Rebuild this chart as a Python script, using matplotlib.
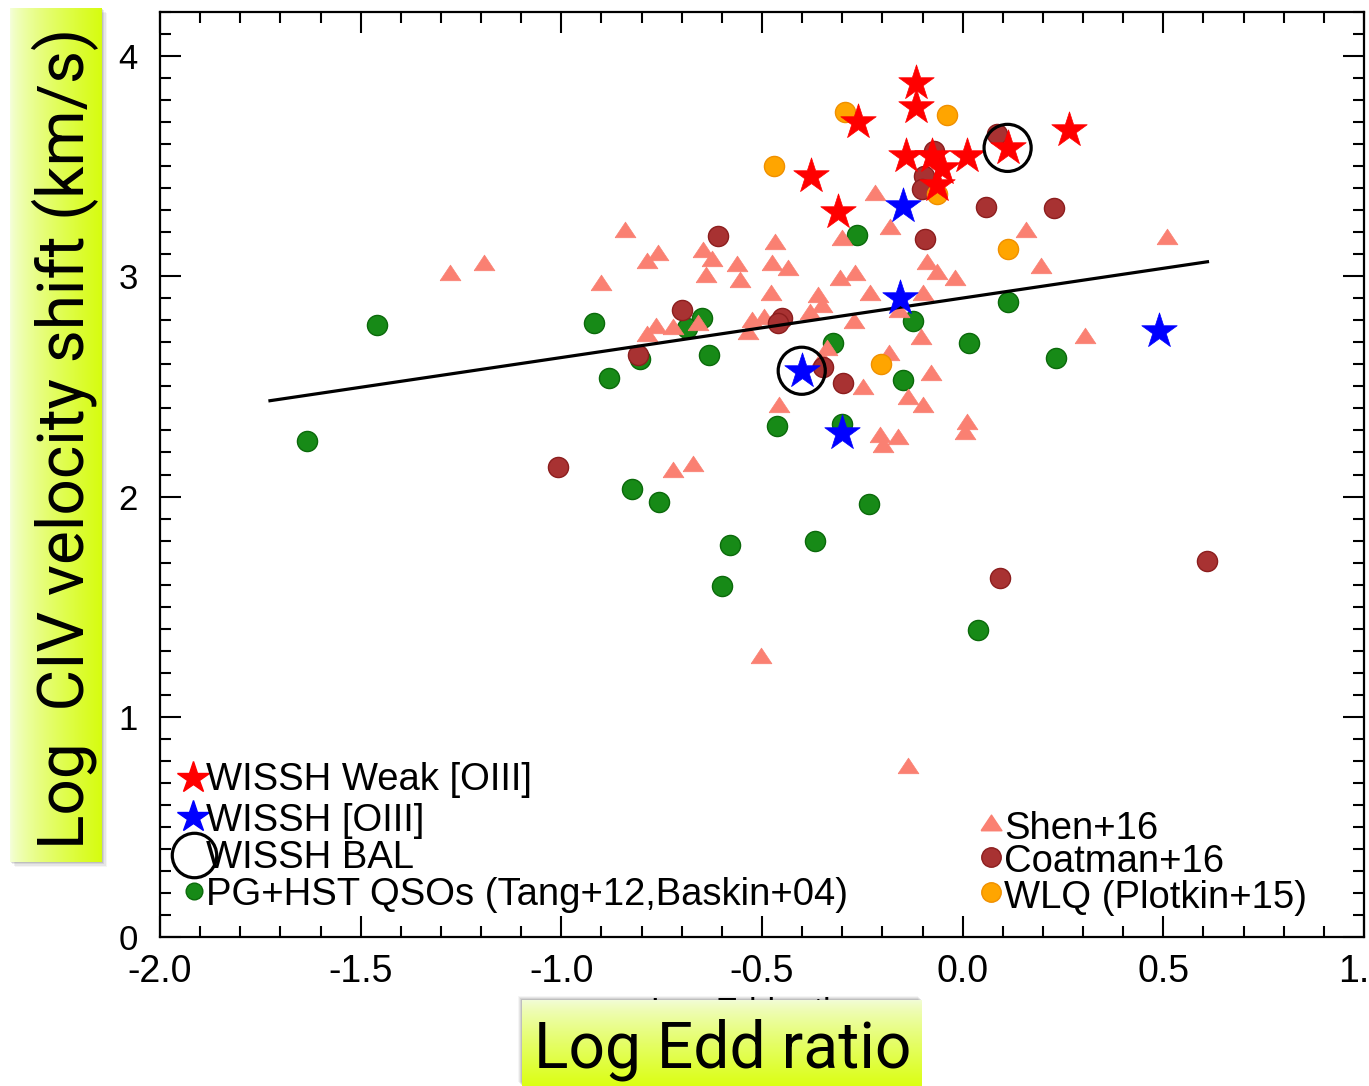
import numpy as np
import matplotlib
matplotlib.use("Agg")
import matplotlib.pyplot as plt
from matplotlib import font_manager as fm
from matplotlib.patches import Rectangle
from matplotlib.ticker import MultipleLocator, FormatStrFormatter

# ---------------- data ----------------
weak_x = [-0.117, -0.117, -0.262, 0.266, 0.112, -0.379, -0.311, -0.142, -0.077, -0.052, 0.012, -0.065]
weak_y = [3.878, 3.769, 3.701, 3.664, 3.583, 3.456, 3.293, 3.546, 3.546, 3.492, 3.546, 3.413]

oiii_x = [-0.149, -0.157, -0.401, -0.301, 0.488]
oiii_y = [3.320, 2.902, 2.571, 2.290, 2.753]

bal_x = [0.112, -0.401]
bal_y = [3.583, 2.571]

pg_x = [-1.634, -1.460, -0.919, -0.882, -0.804, -0.650, -0.687, -0.633, -0.824, -0.757, -0.580, -0.600,
        -0.369, -0.234, -0.463, -0.301, -0.324, -0.264, -0.125, -0.149, 0.015, 0.112, 0.232, 0.037]
pg_y = [2.254, 2.780, 2.789, 2.540, 2.626, 2.812, 2.766, 2.644, 2.032, 1.973, 1.782, 1.596,
        1.800, 1.968, 2.322, 2.331, 2.698, 3.188, 2.798, 2.531, 2.698, 2.884, 2.630, 1.392]

shen_x = [-1.278, -1.193, -0.842, -0.902, -0.787, -0.760, -0.648, -0.625, -0.640, -0.563, -0.555, -0.468,
          -0.476, -0.436, -0.478, -0.361, -0.351, -0.787, -0.765, -0.722, -0.660, -0.526, -0.496, -0.535,
          -0.381, -0.339, -0.351, -0.306, -0.269, -0.232, -0.219, -0.182, -0.301, -0.090, -0.065, -0.020,
          -0.100, -0.159, -0.271, -0.105, -0.184, -0.080, -0.249, -0.137, -0.100, 0.010, 0.007, -0.207,
          -0.162, -0.199, -0.458, -0.722, -0.672, -0.503, -0.137, 0.157, 0.194, 0.508, 0.306]
shen_y = [3.011, 3.057, 3.206, 2.966, 3.066, 3.102, 3.116, 3.075, 3.002, 3.052, 2.980, 3.152,
          3.057, 3.034, 2.921, 2.912, 2.866, 2.735, 2.771, 2.766, 2.785, 2.798, 2.812, 2.744,
          2.834, 2.671, 2.626, 2.989, 3.011, 2.921, 3.374, 3.220, 3.170, 3.061, 3.016, 2.989,
          2.921, 2.844, 2.794, 2.721, 2.649, 2.558, 2.494, 2.449, 2.413, 2.336, 2.290, 2.277,
          2.268, 2.231, 2.413, 2.118, 2.141, 1.270, 0.771, 3.206, 3.043, 3.175, 2.726]

coat_x = [0.085, -0.072, -0.097, -0.102, 0.057, 0.227, -0.095, -0.610, -0.700, -0.451, -0.461,
          -0.809, -0.349, -0.299, -1.009, 0.092, 0.610]
coat_y = [3.646, 3.569, 3.456, 3.397, 3.315, 3.311, 3.170, 3.184, 2.848, 2.812, 2.789,
          2.644, 2.590, 2.517, 2.132, 1.628, 1.705]

wlq_x = [-0.294, -0.040, -0.471, -0.065, 0.112, -0.204]
wlq_y = [3.746, 3.732, 3.501, 3.374, 3.125, 2.603]

fit_x = [-1.726, 0.610]
fit_y = [2.435, 3.066]

x_ticks = [-2.0, -1.5, -1.0, -0.5, 0.0, 0.5, 1.0]
y_ticks = [0, 1, 2, 3, 4]

left_labels = ["WISSH Weak [OIII]", "WISSH [OIII]", "WISSH BAL", "PG+HST QSOs (Tang+12,Baskin+04)"]
right_labels = ["Shen+16", "Coatman+16", "WLQ (Plotkin+15)"]
xlabel_text = "Log Edd ratio"
ylabel_text = "Log  CIV velocity shift (km/s)"

# ---------------- figure ----------------
W, H = 1369, 1086
fig = plt.figure(figsize=(W / 100, H / 100), dpi=100)
fig.patch.set_facecolor("white")

avail = {f.name for f in fm.fontManager.ttflist}
base_font = "Liberation Sans" if "Liberation Sans" in avail else "DejaVu Sans"
box_font = "Liberation Sans Narrow" if "Liberation Sans Narrow" in avail else (
    "Roboto" if "Roboto" in avail else base_font)

ax_l, ax_r, ax_top, ax_bot = 160, 1364, 12, 937
ax = fig.add_axes([ax_l / W, (H - ax_bot) / H, (ax_r - ax_l) / W, (ax_bot - ax_top) / H])
ax.set_zorder(0)
ax.set_xlim(-2.0, 1.0)
ax.set_ylim(0, 4.2)

tri = [(-1, -0.6), (1, -0.6), (0, 0.9), (-1, -0.6)]

ax.scatter(pg_x, pg_y, s=210, marker="o", c="#178a17", edgecolors="#0b6a0b", linewidths=1.0, zorder=2)
ax.scatter(shen_x, shen_y, s=225, marker=tri, c="#fa8072", edgecolors="#fa8072", linewidths=0.5, zorder=3)
ax.scatter(coat_x, coat_y, s=210, marker="o", c="#a83232", edgecolors="#8c1e1e", linewidths=1.0, zorder=4)
ax.scatter(wlq_x, wlq_y, s=210, marker="o", c="#ffa500", edgecolors="#f09000", linewidths=1.0, zorder=5)
ax.plot(fit_x, fit_y, color="black", lw=2.3, zorder=6)
ax.scatter(weak_x, weak_y, s=720, marker="*", c="#ff0000", edgecolors="#ff0000", linewidths=0.5, zorder=7)
ax.scatter(oiii_x, oiii_y, s=720, marker="*", c="#0000ff", edgecolors="#0000ff", linewidths=0.5, zorder=8)
ax.scatter(bal_x, bal_y, s=1150, marker="o", facecolors="none", edgecolors="black", linewidths=2.3, zorder=9)

# ticks
ax.xaxis.set_major_locator(MultipleLocator(0.5))
ax.xaxis.set_minor_locator(MultipleLocator(0.1))
ax.yaxis.set_major_locator(MultipleLocator(1))
ax.yaxis.set_minor_locator(MultipleLocator(0.1))
ax.set_xticks(x_ticks)
ax.set_yticks(y_ticks)
ax.xaxis.set_major_formatter(FormatStrFormatter("%.1f"))
ax.tick_params(which="both", direction="in", top=True, right=True, width=1.5, color="black")
ax.tick_params(which="major", length=15)
ax.tick_params(which="minor", length=8)
ax.tick_params(axis="x", which="major", pad=12, labelsize=27)
ax.tick_params(axis="y", which="major", pad=16, labelsize=25)
for lab in ax.get_xticklabels() + ax.get_yticklabels():
    lab.set_family(base_font)
for sp in ax.spines.values():
    sp.set_linewidth(1.6)

# legends (drawn by hand in axes fraction)
def fx(px):
    return (px - ax_l) / (ax_r - ax_l)

def fy(py):
    return (ax_bot - py) / (ax_bot - ax_top)

mk_kw = dict(transform=ax.transAxes, clip_on=False, zorder=10, linestyle="none")
ax.plot([fx(193)], [fy(778)], marker="*", ms=24, color="#ff0000", **mk_kw)
ax.plot([fx(193)], [fy(817)], marker="*", ms=24, color="#0000ff", **mk_kw)
ax.plot([fx(194)], [fy(855)], marker="o", ms=32, mfc="none", mec="black", mew=2.3, **mk_kw)
ax.plot([fx(194)], [fy(891)], marker="o", ms=12, mfc="#178a17", mec="#0b6a0b", mew=1, **mk_kw)
for lab, py in zip(left_labels, [780, 821, 858, 895]):
    ax.text(fx(206), fy(py), lab, transform=ax.transAxes, fontsize=27.5, family=base_font,
            ha="left", va="center", zorder=11)

ax.plot([fx(991)], [fy(824)], marker=tri, ms=15, color="#fa8072", **mk_kw)
ax.plot([fx(991)], [fy(857)], marker="o", ms=14, mfc="#a83232", mec="#8c1e1e", mew=1, **mk_kw)
ax.plot([fx(991)], [fy(892)], marker="o", ms=14, mfc="#ffa500", mec="#f09000", mew=1, **mk_kw)
for lab, py in zip(right_labels, [829, 862, 898]):
    ax.text(fx(1004), fy(py), lab, transform=ax.transAxes, fontsize=27.5, family=base_font,
            ha="left", va="center", zorder=11)

# faint original x label, mostly hidden behind the highlighted box
fig.text(750 / W, (H - 997) / H, xlabel_text, fontsize=24, family=base_font,
         ha="center", va="top", zorder=-1)

# ---------------- highlighted axis-label boxes ----------------
def shadow(x0, y0, w, h, dx, dy):
    for k, a in enumerate([0.10, 0.08, 0.06, 0.04]):
        off = k + 1
        r = Rectangle(((x0 + dx * off) / W, (H - y0 - h - dy * off) / H), w / W, h / H,
                      transform=fig.transFigure, facecolor="black", edgecolor="none",
                      alpha=a, zorder=-0.5)
        fig.add_artist(r)

# y label box
yb_x0, yb_y0, yb_w, yb_h = 10, 8, 92, 854
shadow(yb_x0, yb_y0, yb_w, yb_h, 1.2, 1.2)
ax_yl = fig.add_axes([yb_x0 / W, (H - yb_y0 - yb_h) / H, yb_w / W, yb_h / H])
ax_yl.set_zorder(1)
t = np.linspace(0, 1, 256) ** 0.7
c0 = np.array([0.96, 1.0, 0.87])
c1 = np.array([0.84, 0.99, 0.06])
grad = (c0[None, :] * (1 - t[:, None]) + c1[None, :] * t[:, None])[None, :, :]
ax_yl.imshow(grad, extent=[0, 1, 0, 1], aspect="auto", interpolation="bilinear")
ax_yl.set_xlim(0, 1)
ax_yl.set_ylim(0, 1)
ax_yl.axis("off")
ty = ax_yl.text(0.60, 0.496, ylabel_text, rotation=90, fontsize=48, family=box_font,
                ha="center", va="center", color="black")

# x label box
xb_x0, xb_y0, xb_w, xb_h = 522, 1000, 400, 86
shadow(xb_x0, xb_y0, xb_w, xb_h, -1.0, -1.0)
ax_xl = fig.add_axes([xb_x0 / W, (H - xb_y0 - xb_h) / H, xb_w / W, xb_h / H])
ax_xl.set_zorder(1)
t2 = np.linspace(0, 1, 256) ** 0.8
c2 = np.array([0.95, 0.99, 0.85])
c3 = np.array([0.86, 1.0, 0.08])
grad2 = (c2[None, :] * (1 - t2[:, None]) + c3[None, :] * t2[:, None])[:, None, :]
ax_xl.imshow(grad2, extent=[0, 1, 0, 1], aspect="auto", interpolation="bilinear", origin="upper")
ax_xl.set_xlim(0, 1)
ax_xl.set_ylim(0, 1)
ax_xl.axis("off")
tx = ax_xl.text(0.502, 0.42, xlabel_text, fontsize=48, family=box_font,
                ha="center", va="center", color="black")

# fit the box-label sizes to the reference lengths
fig.canvas.draw()
r = fig.canvas.get_renderer()
bb = ty.get_window_extent(renderer=r)
ty.set_fontsize(48 * 820.0 / bb.height)
bb = tx.get_window_extent(renderer=r)
tx.set_fontsize(48 * 377.0 / bb.width)

fig.savefig("out.png", dpi=100, facecolor="white")
